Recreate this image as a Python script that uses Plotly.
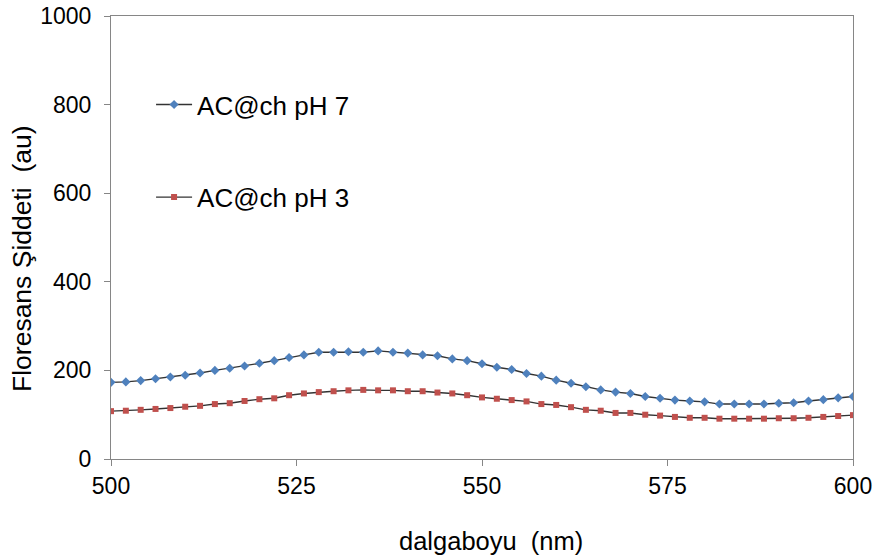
import plotly.graph_objects as go

wavelength = list(range(500, 601, 2))

ph7 = [173, 174, 177, 181, 185, 189, 194, 200, 205, 210,
       216, 222, 229, 235, 241, 241, 242, 241, 244, 241,
       239, 235, 233, 226, 222, 215, 207, 202, 193, 187,
       178, 171, 163, 156, 151, 148, 141, 137, 133, 131,
       129, 124, 124, 124, 124, 126, 127, 131, 134, 138,
       141]

ph3 = [108, 109, 111, 113, 115, 118, 120, 124, 126, 131,
       135, 137, 144, 148, 151, 153, 155, 156, 155, 155,
       153, 153, 150, 148, 144, 139, 136, 133, 130, 124,
       122, 117, 111, 109, 104, 104, 100, 98, 95, 93,
       93, 91, 91, 91, 91, 92, 92, 93, 95, 97,
       99]

series_names = ["AC@ch pH 7", "AC@ch pH 3"]
x_ticks = [500, 525, 550, 575, 600]
y_ticks = [0, 200, 400, 600, 800, 1000]

FONT = "Liberation Sans, Arial, sans-serif"
LINE = "#333333"

fig = go.Figure()
fig.add_trace(go.Scatter(
    x=wavelength, y=ph7, name=series_names[0], mode="lines+markers",
    line=dict(color=LINE, width=1.4),
    marker=dict(symbol="diamond", size=7, color="#4F81BD"),
    legend="legend",
))
fig.add_trace(go.Scatter(
    x=wavelength, y=ph3, name=series_names[1], mode="lines+markers",
    line=dict(color=LINE, width=1.4),
    marker=dict(symbol="square", size=6, color="#C0504D"),
    legend="legend2",
))

axis_common = dict(
    showgrid=False, zeroline=False, showline=True, linecolor="#868686",
    linewidth=1, mirror=True, ticks="outside", ticklen=6, tickcolor="#868686",
    tickfont=dict(family=FONT, size=23, color="#000000"), automargin=False,
)

fig.update_layout(
    width=877, height=558,
    margin=dict(l=111, r=24, t=16, b=99, autoexpand=False),
    paper_bgcolor="white", plot_bgcolor="white",
    font=dict(family=FONT, color="#000000"),
    xaxis=dict(range=[500, 600], tickvals=x_ticks, **axis_common),
    yaxis=dict(range=[0, 1000], tickvals=y_ticks, ticklabelstandoff=8, **axis_common),
    showlegend=True,
    legend=dict(x=0.054, y=800 / 1000, xanchor="left", yanchor="middle",
                bgcolor="rgba(0,0,0,0)", font=dict(family=FONT, size=26),
                itemwidth=36),
    legend2=dict(x=0.054, y=591 / 1000, xanchor="left", yanchor="middle",
                 bgcolor="rgba(0,0,0,0)", font=dict(family=FONT, size=26),
                 itemwidth=36),
    annotations=[
        dict(text="dalgaboyu  (nm)", xref="paper", yref="paper",
             x=(491 - 111) / 742, y=(459 - 541) / 443, xanchor="center", yanchor="middle",
             showarrow=False, font=dict(family=FONT, size=25.5)),
        dict(text="Floresans Şiddeti  (au)", xref="paper", yref="paper",
             x=(22 - 111) / 742, y=(459 - 259) / 443, xanchor="center", yanchor="middle",
             textangle=-90, showarrow=False, font=dict(family=FONT, size=26.5)),
    ],
)

fig.write_html(
    "out.html",
    config={"displayModeBar": False},
    post_script="document.body.style.margin='0';document.body.style.overflow='hidden';",
)
